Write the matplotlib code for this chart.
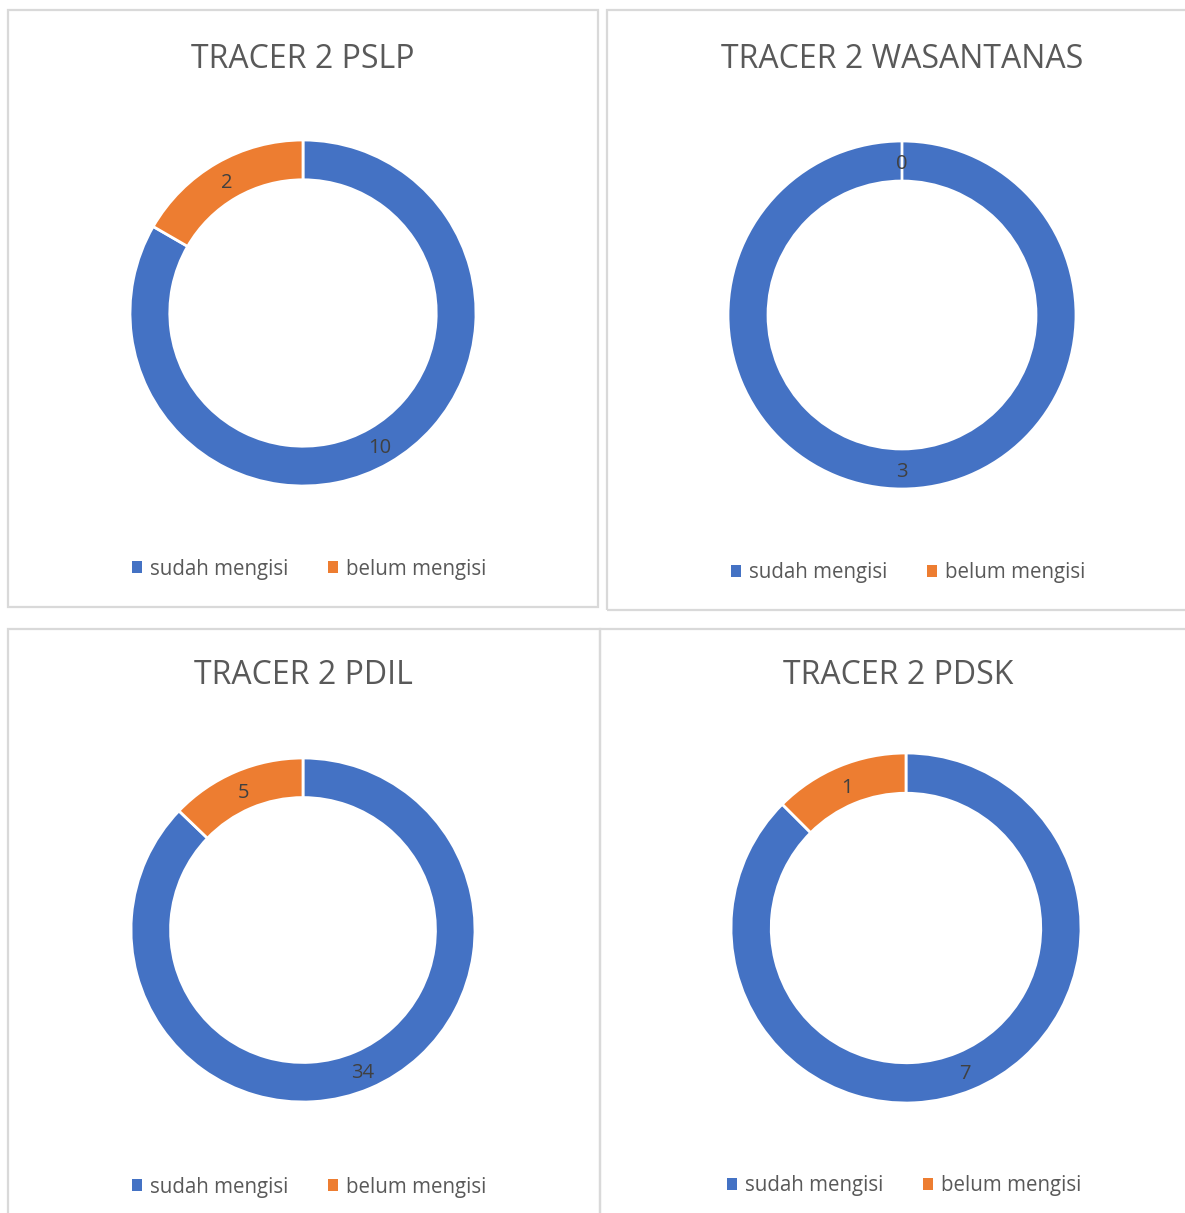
import numpy as np
import matplotlib.pyplot as plt
from matplotlib.patches import Rectangle, Patch

W, H = 1185, 1213

# ------------------ DATA ------------------
titles = ["TRACER 2 PSLP", "TRACER 2 WASANTANAS", "TRACER 2 PDIL", "TRACER 2 PDSK"]
categories = ["sudah mengisi", "belum mengisi"]
sudah = [10, 3, 34, 7]
belum = [2, 0, 5, 1]
colors = ["#4472C4", "#ED7D31"]

# ------------------ LAYOUT (pixels) ------------------
# border box (x0, y0, x1, y1), title pos, donut centre, outer radius, legend centre
panels = [
    dict(box=(8, 10, 598, 607), title=(303, 59), center=(303, 313), r=173, legend=(309, 569)),
    dict(box=(607, 10, 1200, 610), title=(902, 59), center=(902, 315), r=174, legend=(908, 573)),
    dict(box=(8, 629, 600, 1230), title=(303, 676), center=(303, 930), r=172, legend=(309, 1187)),
    dict(box=(600, 629, 1200, 1230), title=(898, 676), center=(906, 928), r=175, legend=(904, 1186)),
]

FONT = "Open Sans"
RING = 0.23
fig = plt.figure(figsize=(W / 100, H / 100), dpi=100)

for i, p in enumerate(panels):
    x0, y0, x1, y1 = p["box"]
    fig.patches.append(Rectangle((x0 / W, 1 - y1 / H), (x1 - x0) / W, (y1 - y0) / H,
                                 transform=fig.transFigure, fill=False,
                                 edgecolor="#d9d9d9", linewidth=1.6))

    cx, cy = p["center"]
    r = p["r"]
    ax = fig.add_axes([(cx - r) / W, 1 - (cy + r) / H, 2 * r / W, 2 * r / H])
    vals = [sudah[i], belum[i]]
    ax.pie(vals, colors=colors, startangle=90, counterclock=False, radius=1,
           wedgeprops=dict(width=RING, edgecolor="white", linewidth=2))
    ax.set_xlim(-1, 1)
    ax.set_ylim(-1, 1)
    ax.set_aspect("equal")
    ax.axis("off")

    # data labels in the middle of the ring
    total = sum(vals)
    start = 0.0
    for v in vals:
        mid = start + v / 2
        ang = np.deg2rad(90 - 360 * mid / total)
        rr = 1 - RING / 2
        ax.text(rr * np.cos(ang), rr * np.sin(ang) - 0.015, str(v), ha="center", va="center",
                fontsize=14.5, color="#404040", family=FONT)
        start += v

    tx, ty = p["title"]
    fig.text(tx / W, 1 - ty / H, titles[i], ha="center", va="center",
             fontsize=23, color="#595959", family=FONT)

    lx, ly = p["legend"]
    handles = [Patch(facecolor=c, edgecolor="none") for c in colors]
    fig.legend(handles, categories, loc="center", bbox_to_anchor=(lx / W, 1 - ly / H),
               ncol=2, frameon=False, handlelength=0.5, handleheight=0.5,
               handletextpad=0.4, columnspacing=1.9,
               prop=dict(family=FONT, size=14.8), labelcolor="#595959")

fig.savefig("out.png", dpi=100)
